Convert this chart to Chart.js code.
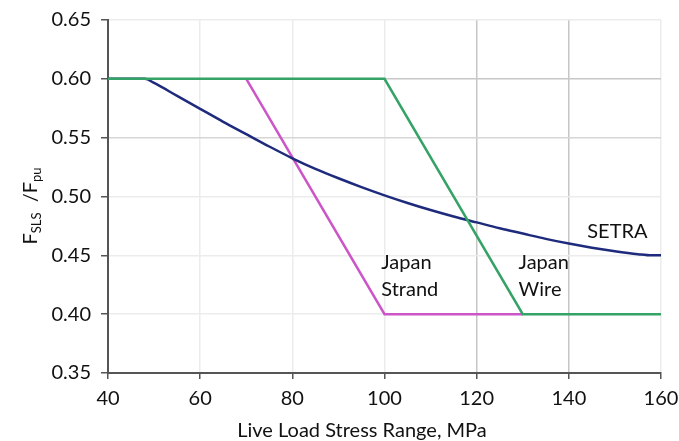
<!DOCTYPE html>
<html>
<head>
<meta charset="utf-8">
<script src="https://cdn.jsdelivr.net/npm/chart.js@4/dist/chart.umd.min.js"></script>
<style>
  html, body { margin: 0; padding: 0; background: #fff; }
  #wrap { width: 679px; height: 441px; }
</style>
</head>
<body>
<div id="wrap"><canvas id="chart" width="679" height="441"></canvas></div>
<script>
const xTicks = [40, 60, 80, 100, 120, 140, 160];
const yTicks = [0.35, 0.40, 0.45, 0.50, 0.55, 0.60, 0.65];

const setraX = [40, 48, 50, 55, 60, 65, 70, 75, 80, 85, 90, 95, 100, 105, 110, 115, 120, 125, 130, 135, 140, 145, 150, 155, 158, 160];
const setraY = [0.600, 0.600, 0.5965, 0.5855, 0.5745, 0.5635, 0.553, 0.5425, 0.5325, 0.5235, 0.5155, 0.508, 0.501, 0.4945, 0.4885, 0.483, 0.478, 0.473, 0.4685, 0.464, 0.460, 0.4565, 0.4535, 0.451, 0.450, 0.450];

const strandX = [70, 100, 130];
const strandY = [0.60, 0.40, 0.40];

const wireX = [40, 100, 130, 160];
const wireY = [0.60, 0.60, 0.40, 0.40];

// curve labels: text lines, left x, y of each line
const labels = [
  { lines: ['SETRA'], x: 144, y: [0.470] },
  { lines: ['Japan', 'Strand'], x: 99.3, y: [0.444, 0.421] },
  { lines: ['Japan', 'Wire'], x: 129.1, y: [0.444, 0.421] },
];

const FONT = 'Lato, "Open Sans", sans-serif';
const TXT = '#111';

const pts = (xs, ys) => xs.map((x, i) => ({ x: x, y: ys[i] }));

const textPlugin = {
  id: 'texts',
  afterDraw(chart) {
    const ctx = chart.ctx;
    const xs = chart.scales.x, ys = chart.scales.y;
    ctx.save();
    ctx.fillStyle = TXT;
    ctx.font = '20px ' + FONT;
    ctx.textBaseline = 'middle';
    ctx.textAlign = 'left';
    labels.forEach(l => {
      l.lines.forEach((t, i) => {
        ctx.fillText(t, xs.getPixelForValue(l.x), ys.getPixelForValue(l.y[i]));
      });
    });

    // x axis title
    ctx.textAlign = 'center';
    ctx.fillText('Live Load Stress Range, MPa', 362, 431);

    // y axis title with subscripts, rotated
    ctx.translate(37, 206);
    ctx.rotate(-Math.PI / 2);
    ctx.textBaseline = 'alphabetic';
    ctx.textAlign = 'left';
    const parts = [
      ['F', 20, 0], ['SLS', 13, 4], ['  /F', 20, 0], ['pu', 13, 4]
    ];
    let w = 0;
    parts.forEach(p => { ctx.font = p[1] + 'px ' + FONT; w += ctx.measureText(p[0]).width; });
    let cx = -w / 2;
    parts.forEach(p => {
      ctx.font = p[1] + 'px ' + FONT;
      ctx.fillText(p[0], cx, p[2]);
      cx += ctx.measureText(p[0]).width;
    });
    ctx.restore();
  }
};

new Chart(document.getElementById('chart'), {
  type: 'line',
  data: {
    datasets: [
      { label: 'Japan Wire', data: pts(wireX, wireY), borderColor: '#35a266', borderWidth: 2.5, pointRadius: 0, tension: 0 },
      { label: 'SETRA', data: pts(setraX, setraY), borderColor: '#1e2a7c', borderWidth: 2.5, pointRadius: 0, cubicInterpolationMode: 'monotone' },
      { label: 'Japan Strand', data: pts(strandX, strandY), borderColor: '#cc55c8', borderWidth: 2.5, pointRadius: 0, tension: 0 },
    ]
  },
  options: {
    responsive: false,
    animation: false,
    layout: { padding: { left: 0, right: 18, top: 20, bottom: 0 } },
    plugins: { legend: { display: false }, tooltip: { enabled: false } },
    scales: {
      x: {
        type: 'linear',
        min: 40, max: 160,
        afterBuildTicks: s => { s.ticks = xTicks.map(v => ({ value: v })); },
        afterFit: s => { s.height = 68; s.paddingLeft = 0; s.paddingRight = 0; },
        ticks: { color: TXT, font: { family: FONT, size: 20 }, padding: 8, maxRotation: 0 },
        grid: {
          color: c => (c.tick && (c.tick.value === 120 || c.tick.value === 140)) ? '#c6c6c6' : '#ececec',
          lineWidth: 1.5,
          tickColor: '#555',
          tickLength: 6,
        },
        border: { color: '#555', width: 2 },
      },
      y: {
        min: 0.35, max: 0.65,
        afterBuildTicks: s => { s.ticks = yTicks.map(v => ({ value: v })); },
        afterFit: s => { s.width = 108; s.paddingTop = 0; s.paddingBottom = 0; },
        ticks: { color: TXT, font: { family: FONT, size: 20 }, padding: 10, callback: v => v.toFixed(2) },
        grid: {
          color: c => {
            if (!c.tick) return '#ececec';
            const v = Math.round(c.tick.value * 100);
            if (v === 60) return '#c8c8c8';
            if (v === 55) return '#d6d6d6';
            return '#ececec';
          },
          lineWidth: 1.5,
          tickColor: '#555',
          tickLength: 7,
        },
        border: { color: '#555', width: 2 },
      },
    }
  },
  plugins: [textPlugin]
});
</script>
</body>
</html>
